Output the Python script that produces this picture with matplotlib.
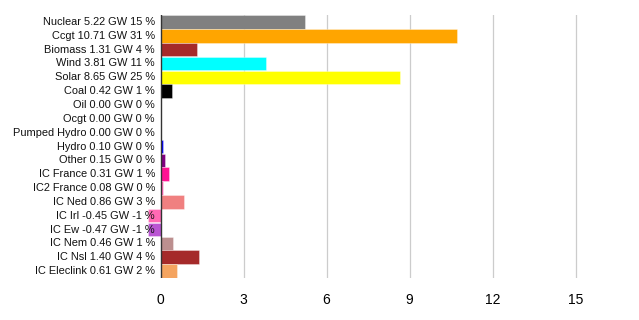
import matplotlib
matplotlib.use("Agg")
from matplotlib import pyplot as plt

# 数据
names = ["Nuclear", "Ccgt", "Biomass", "Wind", "Solar", "Coal", "Oil", "Ocgt",
         "Pumped Hydro", "Hydro", "Other", "IC France", "IC2 France", "IC Ned",
         "IC Irl", "IC Ew", "IC Nem", "IC Nsl", "IC Eleclink"]
gw = [5.22, 10.71, 1.31, 3.81, 8.65, 0.42, 0.00, 0.00, 0.00, 0.10, 0.15,
      0.31, 0.08, 0.86, -0.45, -0.47, 0.46, 1.40, 0.61]
pct = [15, 31, 4, 11, 25, 1, 0, 0, 0, 0, 0, 1, 0, 3, -1, -1, 1, 4, 2]
colors = ["#808080", "#FFA500", "#A52A2A", "#00FFFF", "#FFFF00", "#000000",
          "#333333", "#FFC0CB", "#00008B", "#0000FF", "#800080", "#FF1493",
          "#FF69B4", "#F08080", "#FF69B4", "#BA55D3", "#BC8F8F", "#A52A2A",
          "#F4A460"]
xticks = [0, 3, 6, 9, 12, 15]

labels = [f"{n} {v:.2f} GW {p} %" for n, v, p in zip(names, gw, pct)]

plt.rcParams['font.family'] = ['Liberation Sans', 'DejaVu Sans']

fig = plt.figure(figsize=(6.39, 3.2), dpi=100)
ax = fig.add_axes([147.5 / 639, 1 - 278 / 320, (620 - 147.5) / 639, (278 - 15) / 320])

y = list(range(len(names)))
ax.barh(y, gw, height=0.98, color=colors, edgecolor="#ffffff99", linewidth=0.4, zorder=2)

ax.set_xlim(-0.47, 16.6)
ax.set_ylim(len(names) - 0.5, -0.5)
ax.set_xticks(xticks)
ax.set_xticklabels([str(t) for t in xticks], fontsize=10)
ax.set_yticks([])
ax.tick_params(axis="x", length=0, pad=11)
for s in ax.spines.values():
    s.set_visible(False)
for t in xticks[1:]:
    ax.axvline(t, color="#cccccc", linewidth=0.9, zorder=1)
ax.axvline(0, color="#333333", linewidth=1.0, zorder=3)

# 标签
for i, lab in enumerate(labels):
    ax.annotate(lab, xy=(0, i), xycoords="data", xytext=(-4, 0),
                textcoords="offset points", ha="right", va="center",
                fontsize=7.9, color="#111111", zorder=4, annotation_clip=False)

plt.savefig("out.png", dpi=100)
